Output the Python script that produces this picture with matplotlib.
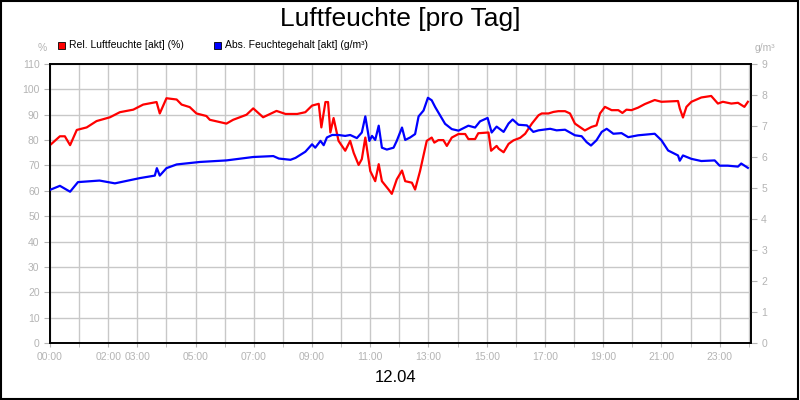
import matplotlib
matplotlib.use("Agg")
import matplotlib.pyplot as plt
from matplotlib.patches import Rectangle

plt.rcParams['font.family'] = ['Liberation Sans', 'DejaVu Sans']

rel_hours = [0, 0.34, 0.51, 0.69, 0.92, 1.26, 1.6, 2.06, 2.4, 2.86, 3.2, 3.66, 3.77, 4.0, 4.35,
             4.52, 4.8, 5.03, 5.37, 5.49, 6.06, 6.29, 6.75, 6.98, 7.32, 7.78,
             8.09, 8.49, 8.77, 9.0, 9.23, 9.32, 9.46, 9.55, 9.63, 9.74, 9.91, 10.14, 10.31,
             10.43, 10.6, 10.71, 10.83, 11.0, 11.17, 11.29, 11.4, 11.63, 11.74, 11.91, 12.09,
             12.2, 12.43, 12.54, 12.71, 12.94, 13.11, 13.2, 13.34, 13.51, 13.63, 13.8, 14.03,
             14.26, 14.37, 14.6, 14.71, 15.06, 15.15, 15.34, 15.41, 15.58, 15.75, 15.92, 16.15,
             16.32, 16.55, 16.78, 16.89, 17.12, 17.29, 17.46, 17.69, 17.86, 18.03, 18.37, 18.6,
             18.77, 18.89, 19.06, 19.29, 19.52, 19.66, 19.8, 19.97, 20.2, 20.43, 20.77, 21.0,
             21.57, 21.63, 21.74, 21.86, 22.03, 22.37, 22.71, 22.94, 23.11, 23.4, 23.63, 23.85, 23.97]
rel_values = [78, 81.5, 81.5, 78, 84, 85, 87.5, 89, 91, 92, 94, 95, 90.5, 96.5, 96,
              94, 93, 90.5, 89.5, 88, 86.5, 88, 90, 92.5, 89, 91.5,
              90.3, 90.3, 91, 93.6, 94.3, 85, 95, 95, 83, 88.7, 79.7, 75.8, 79.7,
              75, 70.2, 72.5, 81, 67.8, 63.8, 70.5, 63.8, 60.5, 58.8, 64.5, 68,
              63.8, 63.2, 60.5, 67.8, 79.7, 81, 79, 80, 80, 77.7, 81, 82.4,
              82.4, 80.4, 80.4, 82.7, 83, 75.8, 77.7, 76.6, 75.2, 78.5, 79.9, 80.9,
              82.5, 86.5, 89.8, 90.5, 90.5, 91.1, 91.4, 91.4, 90.5, 86.5, 83.8, 85.2,
              85.8, 90.5, 93.1, 91.8, 91.8, 90.7, 92, 91.8, 92.8, 94.2, 95.8, 95.1,
              95.4, 92.5, 88.9, 93.1, 95.1, 96.8, 97.4, 94.4, 95.1, 94.4, 94.7, 93.1, 95.1]

abs_hours = [0, 0.34, 0.69, 0.96, 1.7, 2.23, 3.09, 3.6, 3.67, 3.77, 4.0, 4.35, 5.15, 6.06,
             6.98, 7.67, 7.86, 8.26, 8.43, 8.77, 9.0, 9.11, 9.29, 9.4, 9.51, 9.69, 9.91,
             10.14, 10.31, 10.54, 10.71, 10.83, 10.97, 11.06, 11.17, 11.29, 11.4, 11.57,
             11.8, 11.91, 12.09, 12.2, 12.37, 12.54, 12.66, 12.83, 12.98, 13.11, 13.23,
             13.4, 13.57, 13.8, 14.03, 14.37, 14.6, 14.77, 15.03, 15.17, 15.34, 15.58,
             15.75, 15.89, 16.09, 16.38, 16.6, 16.78, 17.18, 17.4, 17.69, 18.03, 18.26,
             18.43, 18.58, 18.77, 18.95, 19.12, 19.35, 19.63, 19.86, 20.2, 20.43, 20.77,
             21.0, 21.23, 21.57, 21.63, 21.74, 22.03, 22.37, 22.83, 23.0, 23.28, 23.63,
             23.74, 23.97]
abs_values = [4.94, 5.07, 4.88, 5.19, 5.24, 5.15, 5.32, 5.4, 5.64, 5.4, 5.64, 5.76, 5.84, 5.89,
              6.0, 6.03, 5.95, 5.91, 5.97, 6.17, 6.41, 6.3, 6.52, 6.38, 6.63, 6.71, 6.71,
              6.68, 6.71, 6.61, 6.79, 7.31, 6.52, 6.68, 6.55, 7.01, 6.3, 6.24,
              6.3, 6.52, 6.95, 6.55, 6.63, 6.74, 7.31, 7.5, 7.91, 7.83, 7.61,
              7.34, 7.07, 6.9, 6.85, 7.01, 6.95, 7.15, 7.26, 6.79, 6.98, 6.81,
              7.08, 7.21, 7.04, 7.02, 6.81, 6.86, 6.91, 6.86, 6.88, 6.7, 6.67,
              6.48, 6.37, 6.54, 6.81, 6.91, 6.75, 6.77, 6.64, 6.7, 6.72, 6.75,
              6.54, 6.21, 6.05, 5.88, 6.05, 5.94, 5.87, 5.89, 5.72, 5.72, 5.69,
              5.79, 5.65]

tick_hours = [0, 2, 3, 5, 7, 9, 11, 13, 15, 17, 19, 21, 23]
tick_labels = ["00:00", "02:00", "03:00", "05:00", "07:00", "09:00", "11:00",
               "13:00", "15:00", "17:00", "19:00", "21:00", "23:00"]

gray = '#b4b4b4'
fig = plt.figure(figsize=(8, 4), dpi=100)
fig.patches.append(Rectangle((0.001, 0.002), 0.997, 0.996, transform=fig.transFigure,
                             fill=False, edgecolor='black', linewidth=1.5))
ax = fig.add_axes([0.0625, 0.1425, 0.876, 0.6975])
ax2 = ax.twinx()
ax.set_xlim(0, 24.07)
ax.set_ylim(0, 110)
ax2.set_ylim(0, 9)
ax.set_xticks(range(0, 25), minor=True)
ax.set_xticks(tick_hours)
ax.set_xticklabels(tick_labels)
ax.set_yticks(range(0, 111, 10))
ax.grid(True, which='both', color='#c8c8c8', linewidth=1)
ax.set_axisbelow(True)
ax.tick_params(axis='x', which='both', colors=gray, labelsize=7.5, length=3)
ax.tick_params(axis='y', colors=gray, labelsize=7.5, length=4)
ax2.tick_params(axis='y', colors=gray, labelsize=7.5, length=4)
ax2.set_yticks(range(0, 10))
for a in (ax, ax2):
    for s in a.spines.values():
        s.set_color('black')
        s.set_linewidth(1.2)

ax.plot(rel_hours, rel_values, color='#ff0000', linewidth=1.6, zorder=3)
ax2.plot(abs_hours, abs_values, color='#0000ff', linewidth=1.6, zorder=3)

fig.text(0.5, 0.953, "Luftfeuchte [pro Tag]", ha='center', va='center', fontsize=19)
fig.text(0.494, 0.055, "12.04", ha='center', va='center', fontsize=12)
fig.text(0.053, 0.88, "%", ha='center', va='center', fontsize=7.5, color=gray)
fig.text(0.956, 0.88, "g/m³", ha='center', va='center', fontsize=7.5, color=gray)
for xf, col, lab in [(0.0725, '#ff0000', "Rel. Luftfeuchte [akt] (%)"),
                     (0.2675, '#0000ff', "Abs. Feuchtegehalt [akt] (g/m³)")]:
    fig.patches.append(Rectangle((xf, 0.878), 0.0085, 0.017, transform=fig.transFigure,
                                 facecolor=col, edgecolor='black', linewidth=0.6))
    fig.text(xf + 0.014, 0.887, lab, ha='left', va='center', fontsize=7.5)

fig.savefig("out.png", dpi=100)
